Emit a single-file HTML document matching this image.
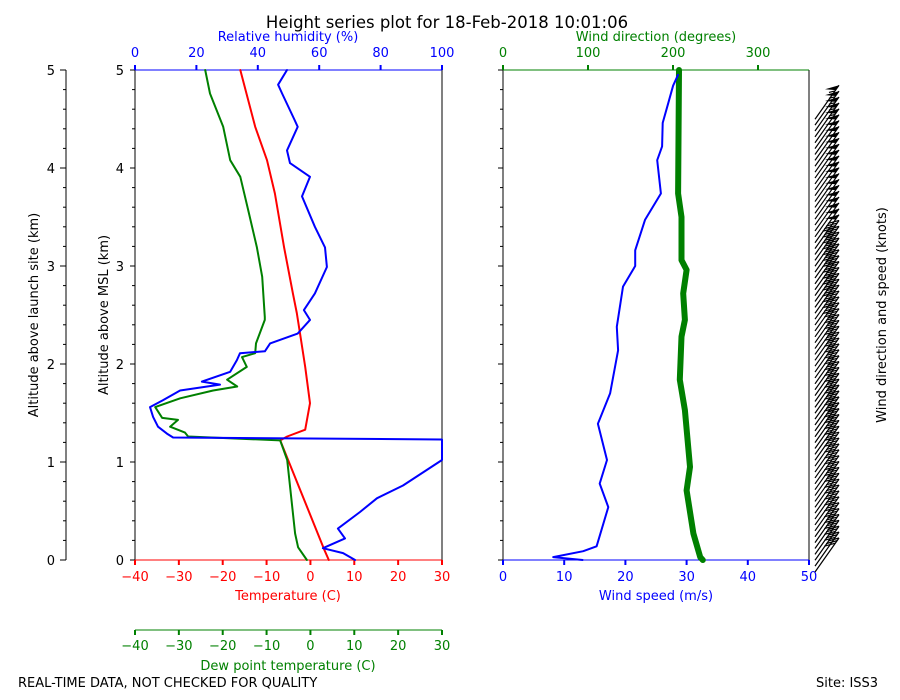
<!DOCTYPE html>
<html><head><meta charset="utf-8">
<style>
html,body{margin:0;padding:0;background:#fff;}
svg{display:block;font-family:"DejaVu Sans","Liberation Sans",sans-serif;}
</style></head>
<body>
<svg id="chart" width="900" height="700" viewBox="0 0 900 700" xmlns="http://www.w3.org/2000/svg">
<text x="447" y="28" font-size="16.5" text-anchor="middle">Height series plot for 18-Feb-2018 10:01:06</text>
<text x="18" y="687" font-size="13">REAL-TIME DATA, NOT CHECKED FOR QUALITY</text>
<text x="816" y="687" font-size="13">Site: ISS3</text>
<g id="g"></g>
</svg>
<script>
// ---- data ----
const tempAlt = [0,0.1,1.02,1.22,1.26,1.33,1.60,1.97,2.32,2.52,2.72,3.19,3.74,4.08,4.42,5.0];
const tempVal = [4.2,3.2,-5.1,-6.9,-5.3,-1.2,-0.1,-1.2,-2.4,-3.1,-4,-6,-8.1,-9.9,-12.6,-16];
const dewAlt = [0,0.13,0.27,1.02,1.22,1.26,1.30,1.36,1.43,1.45,1.56,1.65,1.73,1.77,1.84,1.97,2.07,2.11,2.21,2.45,2.48,2.89,3.19,3.57,3.91,4.08,4.42,4.76,5.0];
const dewVal = [-0.8,-2.8,-3.5,-5.3,-6.9,-27.9,-28.6,-32,-30.2,-33.8,-35.4,-29.7,-22.2,-16.7,-19,-14.5,-15.6,-12.6,-12.4,-10.4,-10.4,-11,-12.2,-14.2,-16,-18.3,-19.9,-22.9,-24];
const rhAlt = [0,0.07,0.12,0.22,0.32,0.49,0.63,0.76,1.02,1.23,1.25,1.29,1.36,1.46,1.56,1.63,1.73,1.79,1.82,1.92,2.04,2.11,2.13,2.21,2.31,2.45,2.55,2.72,2.99,3.19,3.40,3.71,3.91,4.05,4.18,4.42,4.49,4.76,4.85,5.0];
const rhVal = [71.7,67.8,61.2,68.4,66.1,73.3,78.8,87.3,100,100,12.4,10.4,7.5,5.9,4.9,9.1,14.7,27.7,21.8,31,33.2,34.2,42.3,44,53,57,55,58.6,62.5,61.9,58.6,54.4,57,50.5,49.5,53,52,47.9,46.6,49.5];
const wsAlt = [0,0.03,0.09,0.14,0.54,0.78,1.02,1.39,1.70,2.14,2.38,2.79,3.0,3.16,3.47,3.74,4.08,4.22,4.46,4.66,4.84,4.95];
const wsVal = [13,8.2,13.1,15.3,17.2,15.8,17,15.5,17.5,18.8,18.6,19.6,21.6,21.6,23.2,25.8,25.2,26,26.1,27,27.8,28.6];
const wdAlt = [0,0.03,0.27,0.71,0.95,1.53,1.84,2.28,2.45,2.72,2.96,3.06,3.5,3.74,5.0];
const wdVal = [235,232,224,216,220,214,208,210,214,212,216,210,210,206,207];
const altTicks = [0,1,2,3,4,5];
const tempTicks = [-40,-30,-20,-10,0,10,20,30];
const rhTicks = [0,20,40,60,80,100];
const wsTicks = [0,10,20,30,40,50];
const wdTicks = [0,100,200,300];

// ---- scales ----
const yA = a => 560 - a*98;
const xT = t => 135 + (t+40)*307/70;
const xRH = r => 135 + r*3.07;
const xWS = s => 503 + s*306/50;
const xWD = d => 503 + d*306/360;

const NS='http://www.w3.org/2000/svg';
const g=document.getElementById('g');
function mk(tag,attrs,parent){const e=document.createElementNS(NS,tag);for(const k in attrs)e.setAttribute(k,attrs[k]);(parent||g).appendChild(e);return e;}
function line(x1,y1,x2,y2,c,w){return mk('line',{x1,y1,x2,y2,stroke:c,'stroke-width':w});}
function txt(x,y,s,c,anchor,size){const t=mk('text',{x,y,fill:c,'text-anchor':anchor||'middle','font-size':size||13});t.textContent=s;return t;}
function path(alts,vals,fx,c,w,name){
  let d='';alts.forEach((a,i)=>{d+=(i?'L':'M')+fx(vals[i]).toFixed(1)+','+yA(a).toFixed(1);});
  const p=mk('path',{d,fill:'none',stroke:c,'stroke-width':w,'stroke-linejoin':'round','stroke-linecap':'round'});
  
  
  return p;
}
function interp(alts,vals,a){for(let i=1;i<alts.length;i++){if(a<=alts[i]){const f=(a-alts[i-1])/(alts[i]-alts[i-1]);return vals[i-1]+f*(vals[i]-vals[i-1]);}}return vals[vals.length-1];}

// ---- far left axis ----
line(66,70,66,560,'#000',1);
altTicks.forEach(a=>{line(60,yA(a),66,yA(a),'#000',1);txt(55,yA(a)+5,a,'#000','end');});
for(let a=0.2;a<5;a+=0.2){line(63,yA(a),66,yA(a),'#000',1);}
const l1=txt(0,0,'Altitude above launch site (km)','#000');
l1.setAttribute('transform','translate(38,315) rotate(-90)');



// ---- left panel ----
line(135,70,135,560,'#000',1);line(442,70,442,560,'#000',1);
altTicks.forEach(a=>{line(130,yA(a),135,yA(a),'#000',1);txt(124,yA(a)+5,a,'#000','end');});
for(let a=0.2;a<5;a+=0.2){line(132,yA(a),135,yA(a),'#000',1);}
const l2=txt(0,0,'Altitude above MSL (km)','#000');
l2.setAttribute('transform','translate(108,315) rotate(-90)');


line(135,70,442,70,'#0000ff',1);
rhTicks.forEach(r=>{line(xRH(r),65,xRH(r),70,'#0000ff',2);txt(xRH(r),57,r,'#0000ff');});
txt(288,41,'Relative humidity (%)','#0000ff');
line(135,560,442,560,'#ff0000',1);
tempTicks.forEach(t=>{line(xT(t),560,xT(t),565,'#ff0000',2);txt(xT(t),581,t<0?'\u2212'+(-t):t,'#ff0000');});
txt(288,600,'Temperature (C)','#ff0000');
line(135,630,442,630,'#008000',1);
tempTicks.forEach(t=>{line(xT(t),630,xT(t),635,'#008000',2);txt(xT(t),650,t<0?'\u2212'+(-t):t,'#008000');});
txt(288,670,'Dew point temperature (C)','#008000');

path(tempAlt,tempVal,xT,'#ff0000',2,'temperature-line');
path(dewAlt,dewVal,xT,'#008000',2,'dewpoint-line');
path(rhAlt,rhVal,xRH,'#0000ff',2,'humidity-line');

// ---- right panel ----
line(503,70,503,560,'#000',1);line(809,70,809,560,'#000',1);
altTicks.forEach(a=>{line(498,yA(a),503,yA(a),'#000',1);});
for(let a=0.2;a<5;a+=0.2){line(500,yA(a),503,yA(a),'#000',1);}
line(503,70,809,70,'#008000',1);
wdTicks.forEach(d=>{line(xWD(d),65,xWD(d),70,'#008000',2);txt(xWD(d),57,d,'#008000');});
txt(656,41,'Wind direction (degrees)','#008000');
line(503,560,809,560,'#0000ff',1);
wsTicks.forEach(s=>{line(xWS(s),560,xWS(s),565,'#0000ff',2);txt(xWS(s),581,s,'#0000ff');});
txt(656,600,'Wind speed (m/s)','#0000ff');

path(wdAlt,wdVal,xWD,'#008000',6,'wind-direction-line');
path(wsAlt,wsVal,xWS,'#0000ff',2,'wind-speed-line');

// ---- barbs ----
const lb=txt(0,0,'Wind direction and speed (knots)','#000');
lb.setAttribute('transform','translate(886,315) rotate(-90)');


const bg=mk('g',{});


for(let a=0.0;a<=4.66;a+=0.06){
  const kt=interp(wsAlt,wsVal,a+0.3)*1.944;
  const y=yA(a)+12; const x0=815, x1=839, y1=y-34;
  const L=Math.hypot(x1-x0,y1-y);
  const ux=(x0-x1)/L, uy=(y-y1)/L;
  mk('line',{x1:x0,y1:y,x2:x1,y2:y1,stroke:'#000','stroke-width':1.2},bg);
  let rem=Math.round(kt/5)*5; let pos=0;
  while(rem>=50){const px=x1+ux*pos, py=y1+uy*pos;
    mk('polygon',{points:`${px},${py} ${px-14},${py+4} ${px+ux*6},${py+uy*6}`,fill:'#000'},bg);pos+=7;rem-=50;}
  while(rem>=10){const px=x1+ux*pos, py=y1+uy*pos;
    mk('line',{x1:px,y1:py,x2:px-11,y2:py+3,stroke:'#000','stroke-width':1.2},bg);pos+=3.2;rem-=10;}
  if(rem>=5){const px=x1+ux*pos, py=y1+uy*pos;
    mk('line',{x1:px,y1:py,x2:px-6,y2:py+1.5,stroke:'#000','stroke-width':1.2},bg);}
}
</script>
</body></html>
